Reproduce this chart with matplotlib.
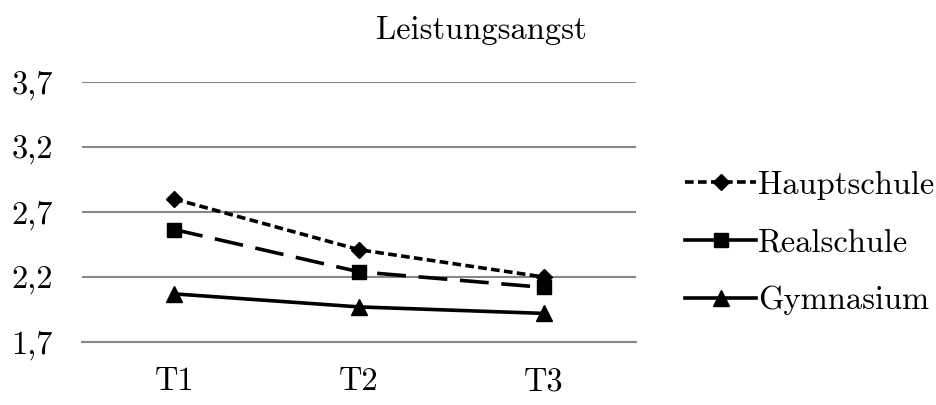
import matplotlib
matplotlib.use("Agg")
import matplotlib.pyplot as plt
from matplotlib.lines import Line2D

# data
zeitpunkte = ["T1", "T2", "T3"]
hauptschule = [2.80, 2.41, 2.20]
realschule = [2.565, 2.24, 2.12]
gymnasium = [2.07, 1.97, 1.92]
y_ticks = [1.7, 2.2, 2.7, 3.2, 3.7]
y_labels = ["1,7", "2,2", "2,7", "3,2", "3,7"]

plt.rcParams["font.family"] = ["cmr10", "DejaVu Serif"]
plt.rcParams["font.size"] = 23.4

fig = plt.figure(figsize=(9.37, 4.05), dpi=100)
ax = fig.add_axes([82 / 937, 1 - 342 / 405, (636 - 82) / 937, (342 - 82) / 405])

LW = 2.6
x = range(len(zeitpunkte))
ax.plot(x, hauptschule, color="black", lw=LW, ls=(0, (2.4, 1.2)),
        marker="D", ms=8, zorder=3)
ax.plot(x, realschule, color="black", lw=LW, ls=(0, (8, 3.5)),
        marker="s", ms=10.5, zorder=3)
ax.plot(x, gymnasium, color="black", lw=LW, ls="-",
        marker="^", ms=12, zorder=3)

ax.set_xlim(-0.5, 2.5)
ax.set_ylim(1.7, 3.7)
ax.set_xticks(list(x))
ax.set_xticklabels(zeitpunkte)
ax.set_yticks(y_ticks)
ax.set_yticklabels(y_labels)
ax.yaxis.grid(True, color="#878787", lw=1.5)
ax.set_axisbelow(True)
for s in ["top", "right", "left"]:
    ax.spines[s].set_visible(False)
ax.spines["bottom"].set_color("#878787")
ax.spines["bottom"].set_linewidth(1.5)
ax.tick_params(axis="both", length=0)
ax.tick_params(axis="y", pad=21)
ax.tick_params(axis="x", pad=18)

fig.text(481 / 937, 1 - 30 / 405, "Leistungsangst", ha="center", va="center")

# Excel-style legend (Realschule shown with a solid key)
handles = [
    Line2D([], [], color="black", lw=LW, ls=(0, (2.4, 1.2)), marker="D", ms=8),
    Line2D([], [], color="black", lw=LW, ls="-", marker="s", ms=10.5),
    Line2D([], [], color="black", lw=LW, ls="-", marker="^", ms=12),
]
fig.legend(handles, ["Hauptschule", "Realschule", "Gymnasium"],
           loc="center left", bbox_to_anchor=(685 / 937, 1 - 243 / 405),
           frameon=False, handlelength=2.2, handletextpad=0.05,
           labelspacing=0.88, borderpad=0, borderaxespad=0)

fig.savefig("out.png", dpi=100)
